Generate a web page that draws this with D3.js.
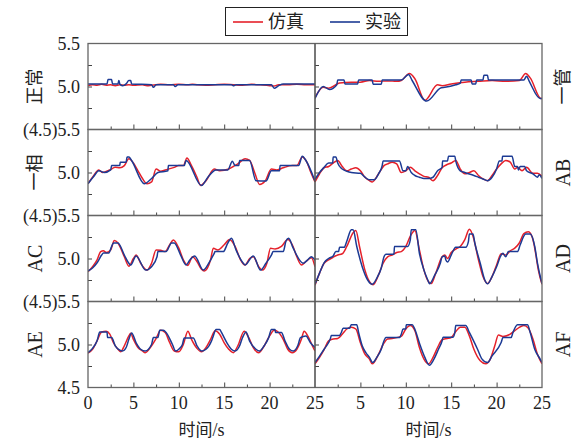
<!DOCTYPE html>
<html>
<head>
<meta charset="utf-8">
<script src="https://cdn.jsdelivr.net/npm/d3@7"></script>
<style>
  body { margin: 0; background: #fff; }
  text { font-family: "Liberation Serif", "Times New Roman", serif; fill: #222; }
  .cjk { font-family: "Noto Sans CJK SC", sans-serif; }
</style>
</head>
<body>
<script>
// series: [time (s), value]
// row 1: 正常 | 一管
const sim0 = [[0,5.01],[0.5,5.02],[1,5.015],[1.5,5.025],[2,5.015],[2.5,5.02],[3,5.01],[3.5,5.02],[4,5.015],[4.5,5.02],[5,5.015],[6,5.02],[6.5,5.01],[7,5.015],[7.5,5.02],[8,5.025],[9,5.02],[10,5.025],[11,5.02],[11.5,5.025],[12,5.02],[13,5.015],[14,5.02],[15,5.025],[16,5.02],[17,5.015],[18,5.025],[19,5.02],[20,5.01],[20.5,5.005],[21,5.02],[22,5.02],[23,5.025],[24,5.02],[25,5.02]];
const exp0 = [[0,5.03],[2.1,5.03],[2.2,5.08],[2.6,5.08],[2.7,5.03],[3.3,5.03],[3.4,5.07],[3.5,5.03],[3.8,5.01],[4.2,5.03],[4.5,5.07],[4.7,5.07],[4.8,5.03],[7.0,5.02],[7.2,4.99],[7.5,5.02],[9.4,5.02],[9.6,5.0],[9.9,5.02],[15.8,5.02],[16.0,5.01],[16.3,5.02],[20.2,5.02],[20.5,4.98],[21.0,5.01],[21.5,5.03],[25,5.03]];
const sim1 = [[0,4.87],[0.9,4.99],[1.5,4.98],[2.7,5.04],[4,5.05],[5,5.05],[6,5.07],[7,5.06],[8,5.065],[9,5.06],[9.5,5.07],[10.4,5.15],[11,5.09],[12.1,4.84],[13.5,5.02],[14,5.01],[15,5.03],[16.5,5.05],[18,5.06],[19.5,5.07],[21,5.06],[22.5,5.07],[23.2,5.15],[23.7,5.1],[24.9,4.86],[25,4.86]];
const exp1 = [[0,4.86],[0.9,5.0],[1.6,4.965],[2.4,5.02],[2.5,5.075],[3.2,5.075],[3.3,5.03],[4.7,5.03],[4.8,5.075],[6.3,5.075],[6.4,5.025],[7.3,5.025],[7.4,5.075],[9.5,5.075],[10.3,5.14],[10.7,5.07],[12.3,4.83],[13.9,4.985],[14.3,4.99],[15.5,5.02],[16.0,5.04],[16.1,5.075],[17.2,5.075],[17.3,5.03],[17.7,5.03],[17.8,5.075],[18.5,5.075],[18.6,5.13],[19.0,5.13],[19.1,5.075],[23.0,5.075],[23.3,5.12],[23.6,5.06],[24.8,4.86],[25,4.86]];
// row 2: 一相 | AB
const sim2 = [[0,4.87],[0.5,4.945],[1.2,5.03],[1.6,5.0],[2.4,5.03],[3,5.06],[3.5,5.055],[4,5.08],[4.5,5.16],[5,5.11],[5.5,5.02],[6,4.93],[6.5,4.87],[7,4.89],[7.5,5.04],[8,5.015],[8.5,5.03],[9.5,5.06],[10,5.08],[10.5,5.08],[10.9,5.17],[11.3,5.1],[12,4.945],[12.4,4.85],[13,4.905],[13.9,5.04],[14.5,5.02],[15.5,5.04],[16,5.07],[16.5,5.1],[17.3,5.16],[17.8,5.14],[18.4,4.985],[18.9,4.86],[19.5,4.9],[20.2,5.04],[20.8,5.03],[21.5,5.055],[22.5,5.08],[23,5.08],[23.6,5.18],[24,5.14],[24.6,4.985],[25,4.89]];
const exp2 = [[0,4.87],[0.6,4.95],[1.2,5.02],[1.8,5.0],[2.5,5.03],[2.6,5.08],[3.5,5.08],[3.55,5.12],[4.2,5.12],[4.3,5.18],[4.5,5.18],[4.8,5.14],[6.2,4.87],[7,4.93],[7.7,5.0],[8.8,5.02],[8.85,5.08],[10.6,5.08],[10.8,5.14],[12.5,4.85],[13.2,4.945],[14.1,5.03],[15.4,5.03],[15.9,5.13],[16.2,5.08],[16.6,5.08],[16.7,5.14],[17.8,5.14],[18.5,4.905],[19.6,4.9],[20.2,5.02],[21.1,5.02],[21.15,5.08],[23.2,5.08],[23.6,5.19],[24,5.14],[25,4.9]];
const sim3 = [[0,4.89],[0.5,4.985],[1,5.055],[1.5,5.07],[2,5.11],[2.5,5.14],[3,5.07],[3.5,5.02],[4,5.04],[4.5,5.055],[5,5.02],[5.5,4.945],[6,4.905],[6.3,4.89],[7,4.985],[7.6,5.08],[8,5.1],[8.5,5.12],[9,5.1],[9.5,5.0],[10,5.02],[10.5,5.06],[11,5.02],[11.5,4.985],[12,4.955],[12.5,4.945],[13,4.905],[13.5,4.965],[14,5.055],[14.5,5.09],[15,5.11],[15.5,5.14],[16,5.04],[16.5,4.985],[17,5.0],[17.5,5.02],[18,4.965],[18.5,4.925],[19,4.905],[19.5,4.965],[20,5.04],[20.5,5.1],[21,5.14],[21.5,5.12],[22,5.04],[22.3,5.06],[22.8,5.02],[23.3,5.06],[24,4.99],[24.5,4.99],[25,4.955]];
const exp3 = [[0,4.92],[0.5,5.0],[1,5.06],[1.5,5.11],[1.95,5.11],[2.0,5.18],[2.3,5.18],[2.5,5.11],[3,5.04],[3.5,5.015],[4,5.0],[5,4.99],[5.5,4.945],[6,4.915],[6.5,4.915],[7,4.985],[7.4,5.08],[7.5,5.135],[9.3,5.135],[9.7,5.02],[10,5.02],[10.2,5.07],[10.6,5.0],[11,4.965],[11.5,4.945],[12,4.93],[12.5,4.93],[13,4.945],[13.5,5.02],[14,5.06],[14.05,5.135],[14.6,5.135],[14.7,5.19],[15.4,5.19],[15.5,5.135],[16,5.02],[16.5,5.0],[17.5,4.965],[18,4.945],[18.5,4.925],[19,4.905],[19.5,4.945],[20,5.04],[20.3,5.135],[20.6,5.135],[20.65,5.19],[21.7,5.19],[22,5.07],[22.3,5.07],[22.4,5.03],[22.6,5.07],[23.1,5.07],[23.3,5.02],[24,4.985],[24.5,4.945],[24.7,4.975],[25,4.93]];
// row 3: AC | AD
const sim4 = [[0,4.845],[0.5,4.905],[1,4.985],[1.4,5.08],[1.7,5.09],[2,5.07],[2.5,5.1],[2.9,5.21],[3.3,5.18],[4,5.02],[4.5,4.91],[5,5.0],[5.3,5.04],[5.8,4.945],[6.5,4.865],[7,4.945],[7.5,5.1],[8,5.095],[8.5,5.08],[9,5.16],[9.4,5.215],[10,5.12],[10.5,4.985],[11,4.92],[11.5,5.02],[12,4.965],[12.5,4.875],[12.8,4.855],[13.5,4.985],[13.8,5.12],[14.3,5.1],[15,5.16],[15.6,5.22],[16.2,5.14],[16.8,4.985],[17.3,4.925],[17.8,5.0],[18.2,5.02],[18.8,4.905],[19.2,4.865],[19.7,4.945],[20.1,5.12],[20.6,5.11],[21.3,5.14],[22,5.22],[22.5,5.16],[23,5.02],[23.5,4.925],[24,4.965],[24.6,5.01],[25,4.905]];
const exp4 = [[0,4.855],[0.5,4.89],[1,4.95],[1.5,5.04],[1.7,5.065],[2.3,5.065],[2.6,5.14],[2.8,5.18],[3.3,5.18],[4,5.04],[4.5,4.945],[4.7,4.925],[5.3,5.03],[6.35,4.865],[7,4.905],[7.6,5.02],[7.7,5.08],[8.6,5.08],[9.2,5.18],[9.5,5.18],[10.2,5.04],[10.8,4.925],[11.2,4.98],[11.75,5.03],[12.7,4.865],[13.3,4.945],[13.9,5.06],[14.0,5.08],[14.9,5.08],[15.4,5.18],[15.8,5.235],[16.3,5.1],[17.1,4.945],[17.3,4.925],[18.2,5.03],[19,4.865],[19.6,4.945],[20.2,5.04],[20.4,5.08],[21.5,5.08],[21.8,5.2],[22.1,5.235],[22.6,5.12],[23.7,4.945],[24.2,4.985],[24.6,5.02],[25,4.98]];
const sim5 = [[0,4.69],[0.5,4.83],[1,4.945],[1.5,4.985],[2,5.015],[2.5,5.04],[3,5.055],[3.5,5.14],[4.2,5.3],[4.5,5.325],[4.9,5.14],[5.5,4.865],[6,4.73],[6.4,4.695],[7,4.81],[7.5,4.945],[8,5.02],[8.5,5.04],[9,5.07],[9.5,5.08],[10,5.14],[10.5,5.26],[11,5.325],[11.5,5.1],[12,4.865],[12.5,4.73],[12.8,4.71],[13.3,4.83],[14,5.02],[14.3,5.04],[14.6,5.0],[15,5.07],[15.5,5.11],[16,5.14],[16.5,5.22],[17,5.34],[17.4,5.26],[18,4.985],[18.5,4.79],[19,4.71],[19.5,4.79],[20,4.925],[20.5,5.055],[21,5.04],[21.5,5.09],[22,5.12],[22.5,5.18],[23,5.29],[23.5,5.31],[24,5.22],[24.3,5.06],[24.6,4.865],[25,4.70]];
const exp5 = [[0,4.70],[0.5,4.83],[1,4.95],[1.5,5.0],[2,5.03],[2.3,5.08],[2.6,5.08],[2.7,5.13],[3.2,5.13],[3.5,5.2],[4.0,5.335],[4.2,5.335],[4.6,5.14],[5.2,4.905],[5.8,4.75],[6.3,4.70],[6.8,4.77],[7.3,4.89],[7.6,5.02],[7.8,5.05],[8.7,5.05],[8.75,5.14],[10.2,5.14],[10.5,5.22],[10.6,5.335],[11.1,5.335],[11.5,5.06],[12,4.865],[12.5,4.73],[12.6,4.705],[13.2,4.81],[13.8,4.945],[14,5.02],[14.3,5.03],[14.4,4.985],[14.6,4.96],[15,5.04],[15.5,5.13],[16.6,5.13],[16.9,5.2],[17,5.285],[17.4,5.285],[17.6,5.18],[18.2,4.945],[18.7,4.75],[19,4.705],[19.5,4.79],[20,4.905],[20.5,5.04],[20.7,5.06],[21.0,5.02],[21.3,5.08],[22.3,5.08],[22.6,5.16],[23.2,5.285],[23.7,5.285],[24.2,5.14],[24.5,4.945],[24.9,4.75],[25,4.71]];
// row 4: AE | AF
const sim6 = [[0,4.90],[0.5,4.945],[1,5.043],[1.5,5.145],[2,5.155],[2.4,5.12],[2.8,5.02],[3.3,4.945],[3.6,4.915],[4,4.985],[4.5,5.1],[4.7,5.13],[5,5.06],[5.5,4.965],[6,4.925],[6.3,4.905],[7,4.985],[7.5,5.07],[8,5.165],[8.5,5.14],[9,5.02],[9.5,4.925],[10,4.915],[10.5,5.0],[11,5.155],[11.4,5.06],[12,4.955],[12.5,4.915],[13,4.965],[13.5,5.06],[14,5.16],[14.5,5.12],[15,5.02],[15.5,4.945],[16,4.905],[16.5,4.985],[17.2,5.155],[17.7,5.08],[18.2,4.965],[18.8,4.905],[19.3,4.965],[20,5.1],[20.5,5.165],[21,5.14],[21.5,5.06],[22,4.945],[22.5,4.905],[23,4.945],[23.5,5.06],[23.8,5.155],[24.3,5.08],[24.8,4.965],[25,4.925]];
const exp6 = [[0,4.905],[0.5,4.955],[1,5.043],[1.3,5.145],[2.1,5.145],[2.15,5.08],[2.6,5.08],[3,4.985],[3.5,4.935],[3.8,4.925],[4.2,4.965],[4.5,5.06],[4.8,5.135],[5.3,5.02],[5.8,4.945],[6.3,4.925],[7,5.0],[7.2,5.08],[7.7,5.08],[7.9,5.165],[8.3,5.165],[8.6,5.14],[9.3,5.0],[9.65,4.925],[10,4.945],[10.4,5.0],[10.6,5.075],[11.6,5.075],[12,4.985],[12.5,4.925],[13,4.945],[13.6,5.04],[13.8,5.1],[14.1,5.175],[14.5,5.175],[14.7,5.14],[15.3,5.02],[15.8,4.945],[16.2,4.925],[16.7,4.985],[17,5.075],[17.4,5.145],[17.8,5.04],[18.5,4.945],[18.9,4.925],[19.4,4.985],[19.9,5.08],[20.2,5.175],[20.6,5.175],[20.65,5.14],[21.3,5.14],[21.7,5.04],[22.2,4.945],[22.6,4.925],[23.1,4.985],[23.4,5.08],[24,5.1],[24.5,5.02],[25,4.965]];
const sim7 = [[0,4.775],[0.5,4.85],[1,4.94],[1.5,5.043],[2,5.065],[2.5,5.07],[3,5.12],[3.5,5.18],[4,5.2],[4.5,5.18],[5,5.02],[5.5,4.887],[6,4.83],[6.3,4.775],[7,4.887],[7.5,5.0],[8,5.065],[8.5,5.07],[9.5,5.094],[10,5.18],[10.5,5.22],[11,5.16],[11.5,4.965],[12,4.83],[12.5,4.775],[13,4.85],[13.5,4.965],[14,5.055],[14.5,5.07],[15,5.082],[15.5,5.15],[16,5.2],[16.5,5.2],[17,5.1],[17.5,4.945],[18.2,4.81],[18.8,4.775],[19.3,4.83],[19.8,4.985],[20.2,5.11],[20.7,5.094],[21.5,5.12],[22,5.16],[22.5,5.2],[23,5.22],[23.5,5.19],[24,5.063],[24.5,4.887],[25,4.775]];
const exp7 = [[0,4.79],[0.5,4.865],[1,4.945],[1.5,5.023],[1.7,5.07],[1.8,5.105],[2.7,5.105],[2.9,5.14],[3.1,5.19],[3.8,5.19],[4,5.23],[4.6,5.23],[4.8,5.14],[5.2,4.985],[5.6,4.905],[6,4.85],[6.35,4.79],[6.8,4.85],[7.3,4.945],[7.6,5.043],[7.8,5.08],[9.3,5.08],[9.5,5.12],[9.7,5.18],[10,5.18],[10.05,5.23],[10.7,5.23],[10.9,5.2],[11.6,4.985],[12.1,4.85],[12.6,4.76],[13.1,4.83],[13.6,4.945],[14,5.043],[14.1,5.085],[15.2,5.085],[15.4,5.14],[15.5,5.22],[16.6,5.22],[17,5.14],[17.9,4.945],[18.4,4.83],[19,4.79],[19.5,4.867],[20.5,5.023],[20.7,5.08],[21.6,5.08],[21.8,5.14],[22.3,5.23],[23.4,5.23],[23.7,5.14],[24.2,4.945],[24.8,4.83],[25,4.79]];

const leftLabels = ["正常", "一相", "AC", "AE"];
const rightLabels = ["一管", "AB", "AD", "AF"];
const simSeries = [[sim0, sim1], [sim2, sim3], [sim4, sim5], [sim6, sim7]];
const expSeries = [[exp0, exp1], [exp2, exp3], [exp4, exp5], [exp6, exp7]];
const xMajor = [0, 5, 10, 15, 20, 25];
const xMinor = [2.5, 7.5, 12.5, 17.5, 22.5];
const yTicks = [4.75, 5.0, 5.25];

const W = 578, H = 446;
const plotLeft = 88, colW = 227, plotTop = 43.5, rowH = 86;
const red = "#e5202a", blue = "#1c3a94";

const svg = d3.select("body").append("svg")
    .attr("width", W).attr("height", H);

function isCjk(s) { return /[\u4e00-\u9fff]/.test(s); }

for (let r = 0; r < 4; r++) {
  const y = d3.scaleLinear().domain([4.5, 5.5]).range([plotTop + (r + 1) * rowH, plotTop + r * rowH]);
  for (let c = 0; c < 2; c++) {
    const x = d3.scaleLinear().domain([0, 25]).range([plotLeft + c * colW, plotLeft + (c + 1) * colW]);
    const g = svg.append("g");
    const clipId = "clip" + r + c;
    g.append("clipPath").attr("id", clipId).append("rect")
        .attr("x", x(0)).attr("y", y(5.5)).attr("width", colW).attr("height", rowH);

    const line = d3.line().x(d => x(d[0])).y(d => y(d[1])).curve(d3.curveMonotoneX);
    g.append("path").datum(simSeries[r][c])
        .attr("d", line)
        .attr("clip-path", "url(#" + clipId + ")")
        .attr("fill", "none").attr("stroke", red).attr("stroke-width", 1.5);
    g.append("path").datum(expSeries[r][c])
        .attr("d", line)
        .attr("clip-path", "url(#" + clipId + ")")
        .attr("fill", "none").attr("stroke", blue).attr("stroke-width", 1.5);

    // inward y ticks
    g.append("g").attr("transform", "translate(" + x(0) + ",0)")
        .call(d3.axisLeft(y).tickValues(yTicks).tickSize(-4).tickFormat(""))
        .call(a => a.select(".domain").remove())
        .call(a => a.selectAll("line").attr("stroke", "#444"));
    // inward x ticks on each row's bottom
    g.append("g").attr("transform", "translate(0," + y(4.5) + ")")
        .call(d3.axisBottom(x).tickValues(xMajor.slice(1, -1)).tickSize(-5).tickFormat(""))
        .call(a => a.select(".domain").remove())
        .call(a => a.selectAll("line").attr("stroke", "#444"));
    g.append("g").attr("transform", "translate(0," + y(4.5) + ")")
        .call(d3.axisBottom(x).tickValues(xMinor).tickSize(-3).tickFormat(""))
        .call(a => a.select(".domain").remove())
        .call(a => a.selectAll("line").attr("stroke", "#444"));

    if (r === 3) {
      const labels = c === 0 ? xMajor : xMajor.slice(1);
      g.selectAll(".xl").data(labels).join("text")
          .attr("x", d => x(d)).attr("y", y(4.5) + 21)
          .attr("text-anchor", "middle").attr("font-size", 18).text(d => d);
      const t = g.append("text")
          .attr("x", x(12.5)).attr("y", y(4.5) + 48)
          .attr("text-anchor", "middle").attr("font-size", 18);
      t.append("tspan").attr("class", "cjk").attr("font-size", 17).text("时间");
      t.append("tspan").text("/s");
    }
  }

  // frame for the row
  svg.append("rect").attr("x", plotLeft).attr("y", y(5.5))
      .attr("width", 2 * colW).attr("height", rowH)
      .attr("fill", "none").attr("stroke", "#666").attr("stroke-width", 1.3);

  // y labels
  svg.append("text").attr("x", 80).attr("y", y(5.0)).attr("dy", "0.35em")
      .attr("text-anchor", "end").attr("font-size", 18).text("5.0");
  svg.append("text").attr("x", 80).attr("y", y(5.5)).attr("dy", "0.35em")
      .attr("text-anchor", "end").attr("font-size", 18).text(r === 0 ? "5.5" : "(4.5)5.5");
  if (r === 3) {
    svg.append("text").attr("x", 80).attr("y", y(4.5)).attr("dy", "0.35em")
        .attr("text-anchor", "end").attr("font-size", 18).text("4.5");
  }

  // row names
  [[35, leftLabels[r]], [563, rightLabels[r]]].forEach(([lx, s]) => {
    svg.append("text")
        .attr("class", isCjk(s) ? "cjk" : null)
        .attr("transform", "translate(" + lx + "," + y(5.0) + ") rotate(-90)")
        .attr("text-anchor", "middle").attr("dy", "0.35em")
        .attr("font-size", isCjk(s) ? 18 : 20).text(s);
  });
}

// middle divider
svg.append("line").attr("x1", plotLeft + colW).attr("x2", plotLeft + colW)
    .attr("y1", plotTop).attr("y2", plotTop + 4 * rowH)
    .attr("stroke", "#555").attr("stroke-width", 1.6);

// legend
const legend = svg.append("g");
legend.append("rect").attr("x", 225.5).attr("y", 7.5).attr("width", 182).attr("height", 28)
    .attr("fill", "#fff").attr("stroke", "#222").attr("stroke-width", 1);
[["仿真", red, 233], ["实验", blue, 330]].forEach(([name, col, lx]) => {
  legend.append("line").attr("x1", lx).attr("x2", lx + 30).attr("y1", 22).attr("y2", 22)
      .attr("stroke", col).attr("stroke-width", 1.6);
  legend.append("text").attr("class", "cjk").attr("x", lx + 35).attr("y", 22)
      .attr("dy", "0.35em").attr("font-size", 18).text(name);
});
</script>
</body>
</html>
